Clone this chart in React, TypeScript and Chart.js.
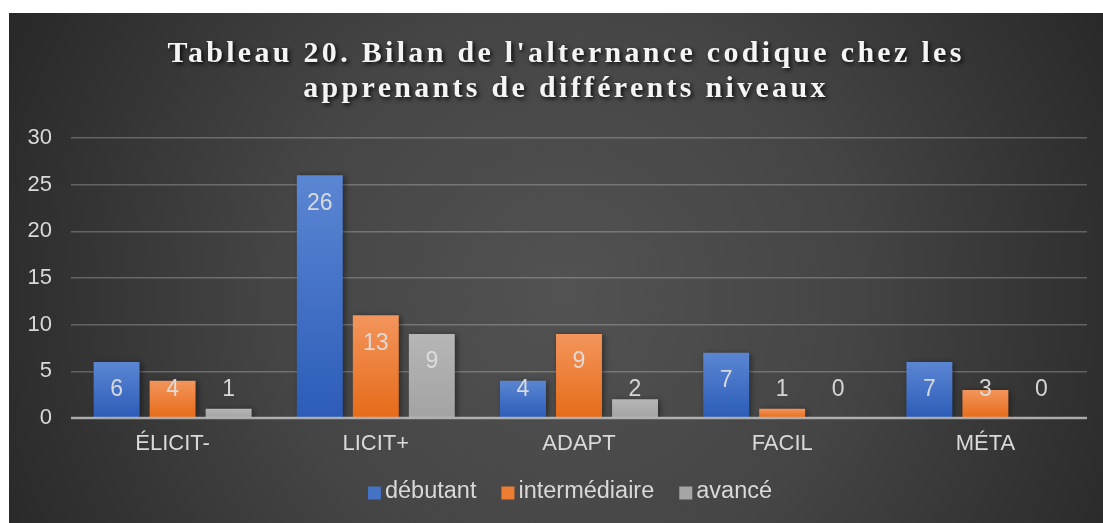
import React, { useEffect, useRef } from "react";
import { Chart, registerables } from "chart.js";

Chart.register(...registerables);

const titleLines = ["Tableau 20. Bilan de l'alternance codique chez les", "apprenants de différents niveaux"];
const categories = ["ÉLICIT-", "LICIT+", "ADAPT", "FACIL", "MÉTA"];
const seriesNames = ["débutant", "intermédiaire", "avancé"];
// bar heights as drawn
const debutant = [6, 26, 4, 7, 6];
const intermediaire = [4, 11, 9, 1, 3];
const avance = [1, 9, 2, 0, 0];
// data labels as printed on the chart
const debutantLabels = ["6", "26", "4", "7", "7"];
const intermediaireLabels = ["4", "13", "9", "1", "3"];
const avanceLabels = ["1", "9", "2", "0", "0"];
const yTicks = [0, 5, 10, 15, 20, 25, 30];

const seriesValues = [debutant, intermediaire, avance];
const seriesLabels = [debutantLabels, intermediaireLabels, avanceLabels];
const gradStops: [string, string][] = [
  ["#5b86d3", "#2c5cb8"],
  ["#f3955c", "#e66b18"],
  ["#b6b6b6", "#a3a3a3"],
];
const swatch = ["#4472c4", "#ed7d31", "#a5a5a5"];

const SANS = "'Liberation Sans', Arial, sans-serif";

const bgPlugin = {
  id: "bgPlugin",
  beforeDraw(chart: any) {
    const { ctx, width, height } = chart;
    ctx.save();
    const g = ctx.createRadialGradient(555, 280, 0, 555, 280, 640);
    g.addColorStop(0, "#525252");
    g.addColorStop(0.45, "#454545");
    g.addColorStop(1, "#262626");
    ctx.fillStyle = g;
    ctx.fillRect(0, 0, width, height);
    ctx.restore();
  },
};

const shadowPlugin = {
  id: "shadowPlugin",
  beforeDatasetDraw(chart: any) {
    const ctx = chart.ctx;
    ctx.save();
    ctx.shadowColor = "rgba(0,0,0,0.45)";
    ctx.shadowBlur = 6;
    ctx.shadowOffsetX = 2;
    ctx.shadowOffsetY = 1;
  },
  afterDatasetDraw(chart: any) {
    chart.ctx.restore();
  },
};

const overlayPlugin = {
  id: "overlayPlugin",
  afterDatasetsDraw(chart: any) {
    const { ctx, chartArea, scales } = chart;
    const y = scales.y;
    // baseline over the bars
    const y0 = y.getPixelForValue(0);
    ctx.save();
    ctx.strokeStyle = "rgba(200,200,200,0.75)";
    ctx.lineWidth = 2.5;
    ctx.beginPath();
    ctx.moveTo(chartArea.left, y0);
    ctx.lineTo(chartArea.right, y0);
    ctx.stroke();

    // data labels
    ctx.font = `23px ${SANS}`;
    ctx.fillStyle = "rgba(222,222,222,0.95)";
    ctx.textAlign = "center";
    ctx.textBaseline = "middle";
    seriesValues.forEach((vals, di) => {
      const meta = chart.getDatasetMeta(di);
      vals.forEach((v, i) => {
        const el = meta.data[i];
        const pos = Math.max(3, v - 3);
        ctx.fillText(seriesLabels[di][i], el.x, y.getPixelForValue(pos));
      });
    });

    // title
    ctx.font = `bold 30px 'Liberation Serif', 'Times New Roman', serif`;
    (ctx as any).letterSpacing = "3.3px";
    ctx.textBaseline = "alphabetic";
    ctx.shadowColor = "rgba(0,0,0,0.85)";
    ctx.shadowBlur = 4;
    ctx.shadowOffsetX = 2;
    ctx.shadowOffsetY = 2;
    ctx.fillStyle = "#f4f4f4";
    titleLines.forEach((t, i) => {
      ctx.fillText(t, 557, 49 + i * 35);
    });
    ctx.restore();

    // legend
    ctx.save();
    ctx.font = `23.5px ${SANS}`;
    ctx.textBaseline = "middle";
    ctx.textAlign = "left";
    const widths = seriesNames.map((n) => ctx.measureText(n).width);
    const box = 13;
    const gapBoxText = 4;
    const gapItems = 25;
    const total = widths.reduce((a, w) => a + box + gapBoxText + w, 0) + gapItems * (seriesNames.length - 1);
    let x = 570 - total / 2 - 9;
    const ly = 479;
    seriesNames.forEach((n, i) => {
      ctx.fillStyle = swatch[i];
      ctx.fillRect(x, ly - box / 2 + 1, box, box);
      x += box + gapBoxText;
      ctx.fillStyle = "#d9d9d9";
      ctx.fillText(n, x, ly);
      x += widths[i] + gapItems;
    });
    ctx.restore();
  },
};

function barGradient(idx: number) {
  return (context: any) => {
    const chart = context.chart;
    const { ctx, scales } = chart;
    if (!scales || !scales.y || context.dataIndex === undefined) return swatch[idx];
    const v = seriesValues[idx][context.dataIndex] ?? 0;
    const top = scales.y.getPixelForValue(v);
    const bottom = scales.y.getPixelForValue(0);
    if (!isFinite(top) || !isFinite(bottom) || top === bottom) return swatch[idx];
    const g = ctx.createLinearGradient(0, top, 0, bottom);
    g.addColorStop(0, gradStops[idx][0]);
    g.addColorStop(1, gradStops[idx][1]);
    return g;
  };
}

export default function App() {
  const ref = useRef<HTMLCanvasElement>(null);
  useEffect(() => {
    if (!ref.current) return;
    const chart = new Chart(ref.current, {
      type: "bar",
      data: {
        labels: categories,
        datasets: seriesNames.map((name, i) => ({
          label: name,
          data: seriesValues[i],
          backgroundColor: barGradient(i),
          borderWidth: 0,
          categoryPercentage: 0.827,
          barPercentage: 0.82,
        })),
      },
      options: {
        animation: false,
        responsive: false,
        maintainAspectRatio: false,
        layout: { padding: { top: 125, right: 16, bottom: 55, left: 0 } },
        plugins: {
          legend: { display: false },
          title: { display: false },
          tooltip: { enabled: false },
        },
        scales: {
          x: {
            grid: { display: false, drawTicks: false },
            border: { display: false },
            ticks: { color: "#d9d9d9", font: { size: 22, family: SANS }, padding: 13 },
            afterFit: (s: any) => {
              s.height = 50;
            },
          },
          y: {
            min: 0,
            max: 30,
            afterBuildTicks: (s: any) => {
              s.ticks = yTicks.map((v) => ({ value: v }));
            },
            grid: { color: "rgba(255,255,255,0.24)", lineWidth: 1.5, drawTicks: false },
            border: { display: false },
            ticks: { color: "#d9d9d9", font: { size: 22, family: SANS }, padding: 19 },
            afterFit: (s: any) => {
              s.width = 62;
            },
          },
        },
      },
      plugins: [bgPlugin, shadowPlugin, overlayPlugin],
    });
    return () => chart.destroy();
  }, []);
  return (
    <div style={{ position: "fixed", left: 9, top: 13, width: 1094, height: 510 }}>
      <canvas ref={ref} width={1094} height={510} style={{ display: "block", width: 1094, height: 510 }} />
    </div>
  );
}
